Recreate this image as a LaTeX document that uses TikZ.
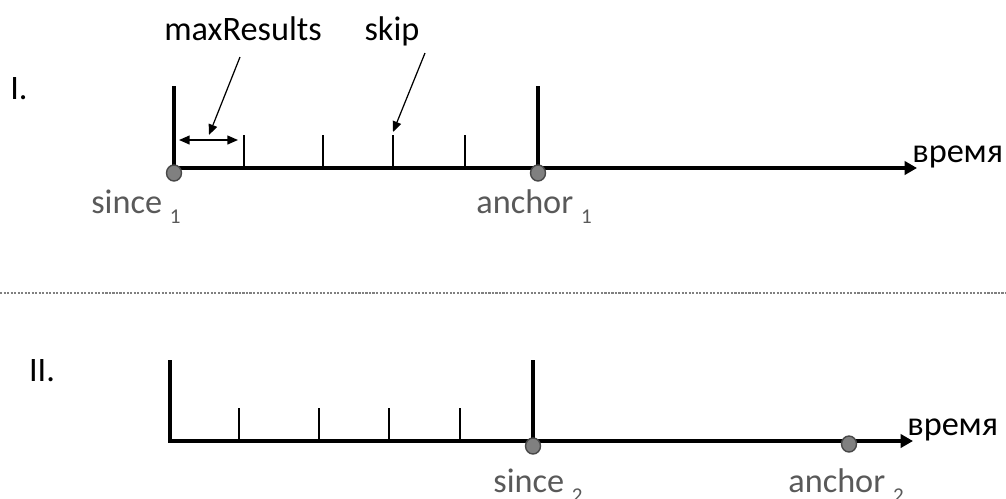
\documentclass[tikz,border=0pt]{standalone}
\usepackage{fontspec}
\setmainfont{Carlito}
\usepackage{tikz}
\usetikzlibrary{arrows.meta}
\usetikzlibrary{positioning}
\definecolor{labelgray}{RGB}{89,89,89}
\definecolor{dotfill}{RGB}{128,128,128}
\definecolor{dotedge}{RGB}{72,72,72}
\newcommand{\tikzPlaceEvent}[1]{\draw[fill = dotfill, draw = dotedge, line width = 0.8pt] #1 ellipse (7.5 and 8)}
\newcommand{\tikzSub}[1]{\raisebox{-6pt}{\fontsize{12}{12}\selectfont #1}}

\begin{document}
\begin{tikzpicture}[x=0.02cm, y=-0.02cm,
    every node/.style={inner sep=0pt, font=\fontsize{19.5}{23}\selectfont},
    timeaxis/.style={line width=2.5pt, -{Triangle[length=7pt,width=7.5pt]}},
    bigbar/.style={line width=2.2pt, line cap=rect},
    tickbar/.style={line width=1.3pt},
    pointer/.style={line width=0.7pt, -{Triangle[length=6pt,width=5pt]}},
    span/.style={line width=0.8pt, {Triangle[length=6pt,width=5pt]}-{Triangle[length=6pt,width=5pt]}},
    eventlabel/.style={text=labelgray, anchor=base west}]
  \useasboundingbox (0,0) rectangle (1006,498);

  % case I
  \node (caseOne) at (19,89) {I.};
  \coordinate (sinceOne) at (174,168);
  \coordinate (anchorOne) at (538,168);
  \coordinate (tipOne) at (917,168);
  \draw [timeaxis] (sinceOne) -- (tipOne);
  \draw [bigbar] (sinceOne) -- ++(0,-80);
  \draw [bigbar] (anchorOne) -- ++(0,-80);
  \foreach \x in {244,323,393,465}
    \draw [tickbar] (\x,168) -- (\x,135);
  \tikzPlaceEvent{(174,173)};
  \tikzPlaceEvent{(538,173)};
  \node [anchor=base west] (timeOne) at (912,162) {время};
  \node [eventlabel] (sinceOneLabel) at (91,213) {since \tikzSub{1}};
  \node [eventlabel] (anchorOneLabel) at (476,213) {anchor \tikzSub{1}};

  % page size and offset
  \coordinate (spanStart) at (179,140);
  \coordinate (spanEnd) at (238,140);
  \draw [span] (spanStart) -- (spanEnd);
  \node [anchor=base] (maxRes) at (243,40) {maxResults};
  \node [anchor=base] (skip) at (392,40) {skip};
  \coordinate (maxResTail) at (240,57);
  \coordinate (maxResHead) at (209,135);
  \coordinate (skipTail) at (425,53);
  \coordinate (skipHead) at (393,132);
  \draw [pointer] (maxResTail) -- (maxResHead);
  \draw [pointer] (skipTail) -- (skipHead);

  % separator
  \draw [gray, line width=0.6pt, dash pattern=on 1.2pt off 0.8pt] (0,293) -- (1006,293);

  % case II
  \node (caseTwo) at (42,371) {II.};
  \coordinate (originTwo) at (170,441);
  \coordinate (sinceTwo) at (533,441);
  \coordinate (tipTwo) at (913,441);
  \draw [timeaxis] (originTwo) -- (tipTwo);
  \draw [bigbar] (originTwo) -- ++(0,-79);
  \draw [bigbar] (sinceTwo) -- ++(0,-79);
  \foreach \x in {239,319,389,460}
    \draw [tickbar] (\x,441) -- (\x,408);
  \tikzPlaceEvent{(533,446)};
  \tikzPlaceEvent{(849,444)};
  \node [anchor=base west] (timeTwo) at (907,435) {время};
  \node [eventlabel] (sinceTwoLabel) at (493,492) {since \tikzSub{2}};
  \node [eventlabel] (anchorTwoLabel) at (788,492) {anchor \tikzSub{2}};
\end{tikzpicture}
\end{document}
